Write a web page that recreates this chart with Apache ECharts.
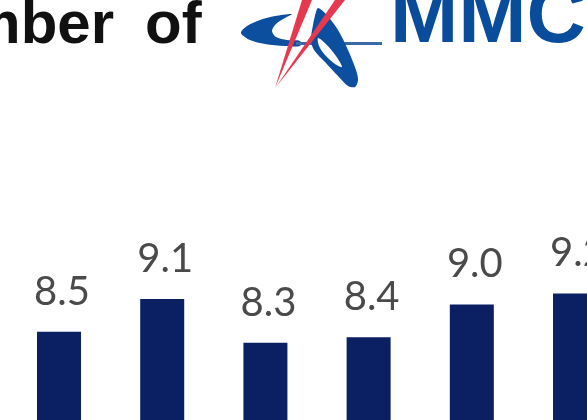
<!DOCTYPE html>
<html>
<head>
<meta charset="utf-8">
<script src="https://cdn.jsdelivr.net/npm/echarts@6/dist/echarts.min.js"></script>
<style>
html,body{margin:0;padding:0;background:#fff;}
#c{width:587px;height:420px;}
</style>
</head>
<body>
<div id="c"></div>
<script>
var categories = ['1', '2', '3', '4', '5', '6'];
var values = [8.5, 9.1, 8.3, 8.4, 9.0, 9.2];
var titleWord1 = 'Number';
var titleWord2 = 'of';
var brandText = 'MMC';

var barData = categories.map(function (c, i) { return [i, values[i]]; });

// logo outline (decoration only)
var swoosh = [[241,33],[247,26],[260,20],[275,16],[292,14],[285,18],[276,24],[272,31],[276,37],[287,40],[300,41],[300,46],[285,46],[265,44],[250,40]];
var lobe = [[318,8],[326,14],[338,30],[348,50],[356,70],[358,80],[355,87],[348,86],[338,76],[325,62],[314,50],[311,40],[313,25],[316,12]];
var lobeHole = [[318,38],[326,44],[336,56],[342,67],[335,64],[325,55],[319,46]];

var chart = echarts.init(document.getElementById('c'), null, {renderer: 'canvas'});
chart.setOption({
  animation: false,
  backgroundColor: '#ffffff',
  grid: {left: 0, right: 0, top: 250, bottom: 0, containLabel: false},
  xAxis: {
    type: 'value',
    min: -0.5717,
    max: 5.116,
    show: false,
    splitLine: {show: false}
  },
  yAxis: {
    type: 'value',
    min: 6.88,
    max: 10,
    show: false,
    splitLine: {show: false}
  },
  series: [{
    type: 'bar',
    data: barData,
    barWidth: 44,
    itemStyle: {color: '#0b1f63'},
    label: {
      show: true,
      position: 'top',
      distance: 20,
      offset: [3, 0],
      color: '#4a4a4a',
      fontFamily: 'Lato',
      fontSize: 40,
      formatter: function (p) { return p.value[1].toFixed(1); }
    }
  }],
  graphic: [
    {
      type: 'text', x: 114, y: 26.4,
      style: {text: titleWord1, fill: '#111111', font: 'bold 60px "Liberation Sans", Arial, sans-serif', align: 'right', verticalAlign: 'middle'}
    },
    {
      type: 'text', x: 145, y: 26.4,
      style: {text: titleWord2, fill: '#111111', font: 'bold 60px "Liberation Sans", Arial, sans-serif', align: 'left', verticalAlign: 'middle'}
    },
    {
      type: 'text', x: 390, y: 19.5,
      style: {text: brandText, fill: '#0a4c9c', font: 'bold 82px "Liberation Sans", Arial, sans-serif', align: 'left', verticalAlign: 'middle'}
    },
    {type: 'polygon', shape: {points: swoosh, smooth: 0.3}, style: {fill: '#0d4f9f'}},
    {type: 'line', shape: {x1: 296, y1: 43.5, x2: 382, y2: 43.5}, style: {stroke: '#3b6aa8', lineWidth: 3}},
    {type: 'polygon', shape: {points: lobe, smooth: 0.3}, style: {fill: '#0d4f9f'}},
    {type: 'polygon', shape: {points: lobeHole, smooth: 0.3}, style: {fill: '#ffffff'}},
    {type: 'polygon', shape: {points: [[275, 88], [302, 0], [312, 0]]}, style: {fill: '#e63950'}},
    {type: 'polygon', shape: {points: [[276, 87], [335, 0], [345, 0]]}, style: {fill: '#e63950'}}
  ]
});
</script>
</body>
</html>
